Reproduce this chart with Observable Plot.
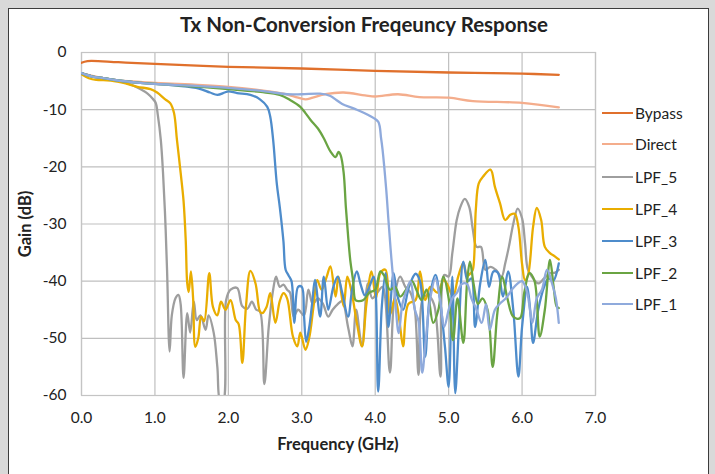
<!DOCTYPE html>
<html>
<head>
<meta charset="utf-8">
<script src="https://cdn.jsdelivr.net/npm/d3@7"></script>
<script src="https://cdn.jsdelivr.net/npm/@observablehq/plot@0.6"></script>
<style>
  html, body { margin: 0; padding: 0; background: #d9d9d9; }
  #wrap { position: relative; width: 715px; height: 474px; overflow: hidden; background: #d9d9d9; font-family: Lato, "Open Sans", sans-serif; }
  #card { position: absolute; left: 8px; top: 8px; width: 701px; height: 480px; background: #fff; border: 1px solid #3c3c3c; box-sizing: border-box; }
  #title { position: absolute; left: 364px; top: 12px; transform: translateX(-50%); font-weight: bold; font-size: 20.5px; white-space: nowrap; color: #222; }
  #xlabel { position: absolute; left: 338px; top: 434px; transform: translateX(-50%); font-weight: bold; font-size: 16.5px; white-space: nowrap; color: #222; }
  #ylabel { position: absolute; left: 25px; top: 224px; transform: translate(-50%, -50%) rotate(-90deg); font-weight: bold; font-size: 16.5px; white-space: nowrap; color: #222; }
  #chart { position: absolute; left: 0; top: 0; }
  #legend { position: absolute; left: 602px; top: 0; }
  .item { position: absolute; left: 0; display: flex; align-items: center; font-size: 15.5px; color: #222; white-space: nowrap; transform: translateY(-50%); }
  .swatch { width: 31px; height: 2.5px; margin-right: 2px; }
</style>
</head>
<body>
<div id="wrap">
  <div id="card"></div>
  <div id="chart"></div>
  <div id="title">Tx Non-Conversion Freqeuncy Response</div>
  <div id="xlabel">Frequency (GHz)</div>
  <div id="ylabel">Gain (dB)</div>
  <div id="legend"></div>
</div>
<script>
// ---------- data (frequency GHz, gain dB) ----------
const seriesNames = ["Bypass", "Direct", "LPF_5", "LPF_4", "LPF_3", "LPF_2", "LPF_1"];
const seriesColors = ["#e0702c", "#f4ad8c", "#9e9e9e", "#e9ad00", "#4e8ccb", "#6aa443", "#8faadc"];
const freqTicks = [0, 1, 2, 3, 4, 5, 6, 7];
const gainTicks = [0, -10, -20, -30, -40, -50, -60];

const bypass = [[0,-1.8],[0.08,-1.5],[0.5,-1.7],[1,-2.0],[2,-2.5],[3,-2.8],[4,-3.2],[5,-3.5],[6,-3.7],[6.5,-3.9]];

const direct = [[0,-3.6],[0.15,-4.1],[0.3,-4.5],[0.5,-4.9],[1.0,-5.3],[1.5,-5.6],[2.0,-6.0],[2.5,-6.7],[2.75,-7.2],[2.9,-7.7],[3.05,-8.2],[3.15,-7.9],[3.32,-7.3],[3.57,-7.0],[3.86,-7.5],[4.0,-7.7],[4.31,-7.3],[4.6,-7.8],[5.0,-7.9],[5.33,-8.5],[6.0,-8.8],[6.5,-9.6]];

const lpf5 = [[0,-3.6],[0.15,-4.2],[0.3,-4.5],[0.5,-4.9],[0.67,-5.6],[0.8,-6.4],[0.9,-7.2],[0.97,-8.1],[1.01,-8.8],[1.04,-11.0],[1.08,-15.3],[1.11,-21],[1.14,-29],[1.165,-38],[1.2,-52.3],[1.23,-46],[1.28,-43],[1.32,-42.4],[1.35,-44],[1.39,-56.9],[1.44,-45.6],[1.48,-49],[1.53,-43.6],[1.57,-46.8],[1.62,-46],[1.69,-48.5],[1.73,-46],[1.8,-49],[1.85,-55],[1.89,-61],[1.93,-61],[1.97,-43.3],[2.03,-41.5],[2.12,-41.2],[2.19,-44.4],[2.26,-44.8],[2.32,-43.6],[2.38,-45],[2.43,-45.3],[2.49,-58],[2.55,-48],[2.61,-41.5],[2.65,-39.2],[2.7,-41],[2.75,-40.6],[2.8,-41.5],[2.84,-42],[2.89,-46.2],[2.95,-45],[3.03,-46],[3.09,-41.5],[3.15,-44],[3.22,-43],[3.29,-44],[3.36,-46.2],[3.42,-45],[3.49,-44],[3.55,-43.5],[3.63,-48],[3.69,-51.4],[3.74,-45],[3.82,-51.4],[3.9,-40.4],[3.96,-43],[4.03,-42],[4.1,-41],[4.2,-56],[4.26,-43],[4.34,-39.2],[4.41,-41],[4.48,-42],[4.54,-45],[4.59,-56.4],[4.65,-43],[4.72,-42.5],[4.8,-44],[4.89,-56.7],[4.94,-38.9],[5.0,-39.2],[5.05,-35.1],[5.11,-29.3],[5.16,-27],[5.22,-25.6],[5.28,-27],[5.33,-31],[5.38,-34],[5.44,-34],[5.5,-38],[5.57,-37.5],[5.64,-38],[5.72,-39.2],[5.77,-36.9],[5.82,-34],[5.88,-30],[5.94,-27.3],[6.0,-29],[6.04,-33.3],[6.08,-38],[6.15,-39.5],[6.22,-40.4],[6.3,-39.5],[6.38,-38.6],[6.45,-38.5],[6.5,-38]];

const lpf4 = [[0,-3.8],[0.1,-4.5],[0.2,-4.8],[0.4,-4.9],[0.6,-5.4],[0.76,-6.0],[0.94,-6.4],[1.03,-7.0],[1.14,-8.2],[1.21,-8.9],[1.26,-10.6],[1.3,-15.3],[1.35,-21],[1.39,-26],[1.42,-33],[1.44,-40.4],[1.46,-41.9],[1.49,-38.3],[1.52,-43],[1.55,-51.5],[1.59,-50],[1.63,-46.2],[1.67,-47],[1.74,-38.6],[1.79,-44.5],[1.85,-46],[1.9,-43.6],[1.96,-45],[2.03,-43.3],[2.1,-46.8],[2.14,-47.5],[2.19,-54.3],[2.24,-44.4],[2.3,-38.2],[2.37,-40.4],[2.43,-45.3],[2.46,-45.6],[2.52,-44.5],[2.57,-42.1],[2.64,-47.3],[2.7,-43.5],[2.75,-42.1],[2.8,-43],[2.88,-49.7],[2.94,-51.4],[2.98,-49],[3.05,-52],[3.1,-50],[3.16,-44.4],[3.21,-39.8],[3.27,-41.5],[3.34,-39.2],[3.39,-37.4],[3.46,-42.7],[3.5,-39.2],[3.57,-44.4],[3.62,-39.2],[3.68,-42],[3.75,-47.3],[3.82,-51.4],[3.88,-44],[3.95,-38.3],[4.01,-43],[4.07,-38.6],[4.14,-38],[4.2,-45.9],[4.27,-43],[4.33,-47],[4.38,-51.4],[4.45,-44],[4.55,-43.3],[4.61,-38.3],[4.68,-43.3],[4.75,-41],[4.85,-42],[4.93,-39.8],[4.98,-40.5],[5.06,-42.7],[5.13,-39.2],[5.2,-36.8],[5.25,-39],[5.3,-38.6],[5.33,-38],[5.37,-27.5],[5.41,-22.9],[5.47,-21.7],[5.57,-20.5],[5.63,-23.5],[5.7,-26.4],[5.77,-29.3],[5.84,-28.4],[5.9,-28.2],[5.95,-30.5],[6.0,-37],[6.04,-39.8],[6.08,-39],[6.15,-30.5],[6.2,-27.2],[6.26,-29.3],[6.31,-34],[6.38,-35.1],[6.45,-35.7],[6.5,-36.2]];

const lpf3 = [[0,-3.6],[0.15,-4.2],[0.3,-4.5],[0.5,-4.9],[0.8,-5.3],[1.0,-5.5],[1.3,-5.8],[1.6,-6.3],[1.75,-7.0],[1.85,-7.4],[1.95,-7.0],[2.0,-6.8],[2.12,-7.1],[2.3,-7.4],[2.43,-8.2],[2.53,-9.5],[2.57,-11.2],[2.61,-15.3],[2.66,-23],[2.7,-27],[2.75,-33],[2.78,-38],[2.82,-39],[2.86,-40],[2.9,-47.3],[2.95,-41],[3.0,-41],[3.03,-46],[3.06,-50.6],[3.1,-48.2],[3.14,-44],[3.18,-39.8],[3.25,-46.2],[3.3,-39.2],[3.36,-45],[3.43,-41],[3.49,-39.2],[3.55,-42],[3.63,-46.2],[3.69,-41],[3.75,-38.3],[3.8,-40.5],[3.86,-42.5],[3.92,-41],[3.98,-39.2],[4.04,-59.3],[4.09,-44.4],[4.14,-38.6],[4.18,-48],[4.25,-38.6],[4.3,-42.5],[4.38,-45],[4.46,-41],[4.55,-38.7],[4.61,-40],[4.68,-53.2],[4.74,-43],[4.82,-38.9],[4.88,-43],[4.95,-51.5],[5.0,-58.5],[5.05,-39.2],[5.09,-59.6],[5.14,-48],[5.2,-36.6],[5.26,-40],[5.31,-39.5],[5.36,-48],[5.43,-40.4],[5.5,-36.3],[5.55,-41],[5.61,-38.3],[5.67,-38.5],[5.74,-42.7],[5.81,-38.3],[5.88,-45],[5.95,-56.7],[6.0,-48],[6.07,-41],[6.11,-45],[6.15,-50.8],[6.22,-45],[6.3,-41],[6.36,-39.5],[6.42,-40],[6.5,-36.9]];

const lpf2 = [[0,-3.6],[0.15,-4.2],[0.3,-4.5],[0.5,-4.9],[0.8,-5.3],[1.0,-5.5],[1.5,-5.9],[2.0,-6.4],[2.44,-6.9],[2.7,-7.4],[2.84,-8.3],[2.98,-9.5],[3.05,-10.6],[3.12,-11.8],[3.22,-13.3],[3.3,-15],[3.39,-17.3],[3.46,-18.3],[3.5,-17.4],[3.53,-18],[3.57,-21],[3.6,-27],[3.63,-32],[3.66,-36.3],[3.7,-40],[3.73,-43.3],[3.77,-43.5],[3.84,-43.3],[3.92,-42],[4.0,-41.5],[4.07,-38.3],[4.12,-39],[4.2,-41.5],[4.27,-41],[4.34,-42.7],[4.42,-41.5],[4.5,-40],[4.56,-41.5],[4.63,-43.3],[4.7,-41.5],[4.79,-47.3],[4.86,-45],[4.93,-39.2],[5.0,-43],[5.06,-50.3],[5.12,-43],[5.2,-50.8],[5.25,-40.5],[5.29,-36.6],[5.34,-40.5],[5.4,-44],[5.46,-43],[5.53,-45],[5.6,-55],[5.66,-46],[5.73,-39.2],[5.8,-43],[5.88,-46.2],[5.97,-46.5],[6.03,-42],[6.1,-38.6],[6.17,-40],[6.24,-49.7],[6.31,-45],[6.38,-36.3],[6.43,-41],[6.47,-44.4],[6.5,-44.7]];

const lpf1 = [[0,-3.6],[0.15,-4.2],[0.3,-4.5],[0.5,-4.9],[0.8,-5.3],[1.0,-5.5],[1.5,-5.8],[2.0,-6.2],[2.5,-6.8],[2.8,-7.3],[3.0,-7.3],[3.25,-7.2],[3.39,-7.6],[3.47,-8.3],[3.55,-9.0],[3.73,-9.9],[3.93,-11.1],[4.04,-12.1],[4.08,-15],[4.1,-17],[4.15,-24],[4.18,-29.3],[4.22,-36],[4.27,-43],[4.32,-49.1],[4.37,-44],[4.43,-41.5],[4.48,-40],[4.54,-45],[4.59,-47],[4.64,-56],[4.69,-50],[4.75,-43],[4.82,-39.5],[4.88,-43],[4.94,-48],[5.0,-45],[5.05,-43],[5.11,-42.1],[5.18,-40.5],[5.25,-40.5],[5.31,-43],[5.38,-45],[5.45,-47.3],[5.51,-44],[5.56,-48.5],[5.63,-45],[5.7,-43.9],[5.78,-43],[5.86,-41.5],[5.93,-40.5],[6.0,-40],[6.07,-42],[6.14,-47.3],[6.2,-43],[6.27,-41.5],[6.34,-38],[6.41,-40.5],[6.46,-43],[6.5,-47.3]];

const seriesData = [bypass, direct, lpf5, lpf4, lpf3, lpf2, lpf1];

// ---------- build table ----------
const rows = [];
seriesNames.forEach((name, i) => {
  seriesData[i].forEach(([f, g]) => rows.push({series: name, f, g}));
});

const chart = Plot.plot({
  width: 715,
  height: 474,
  marginLeft: 81,
  marginRight: 120,
  marginTop: 52,
  marginBottom: 79,
  style: {background: "transparent", fontFamily: "Lato, 'Open Sans', sans-serif", fontSize: "15.5px", color: "#222"},
  x: {domain: [0, 7]},
  y: {domain: [-60, 0]},
  color: {domain: seriesNames, range: seriesColors},
  marks: [
    Plot.gridX(freqTicks, {stroke: "#bfbfbf", strokeOpacity: 1, strokeWidth: 1.2}),
    Plot.gridY(gainTicks, {stroke: "#bfbfbf", strokeOpacity: 1, strokeWidth: 1.2}),
    Plot.frame({stroke: "#c4c4c4", strokeWidth: 1.2}),
    Plot.axisX(freqTicks, {tickSize: 0, tickPadding: 16, tickFormat: d => d.toFixed(1), label: null, fontSize: 15.5}),
    Plot.axisY(gainTicks, {tickSize: 0, tickPadding: 15, tickFormat: d => String(d), label: null, fontSize: 15.5}),
    Plot.line(rows, {x: "f", y: "g", z: "series", stroke: "series", strokeWidth: 2.3, curve: "catmull-rom", clip: true})
  ]
});
document.getElementById("chart").appendChild(chart);

// ---------- legend ----------
const legendY = [113, 144, 177, 209, 241, 273, 304];
const legend = document.getElementById("legend");
seriesNames.forEach((name, i) => {
  const item = document.createElement("div");
  item.className = "item";
  item.style.top = legendY[i] + "px";
  const sw = document.createElement("span");
  sw.className = "swatch";
  sw.style.background = seriesColors[i];
  const label = document.createElement("span");
  label.textContent = name;
  item.appendChild(sw);
  item.appendChild(label);
  legend.appendChild(item);
});
</script>
</body>
</html>
